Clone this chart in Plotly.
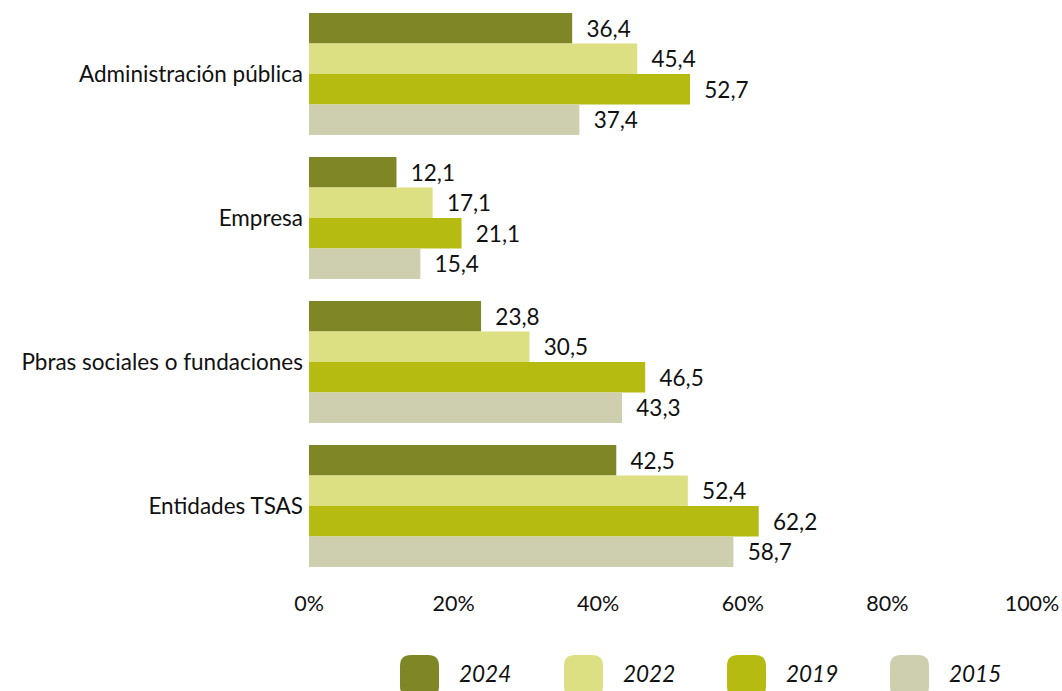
import plotly.graph_objects as go

# Survey results by sector (percent), one series per survey year
categories = ["Administración pública", "Empresa", "Pbras sociales o fundaciones", "Entidades TSAS"]
years = ["2024", "2022", "2019", "2015"]
values_2024 = [36.4, 12.1, 23.8, 42.5]
values_2022 = [45.4, 17.1, 30.5, 52.4]
values_2019 = [52.7, 21.1, 46.5, 62.2]
values_2015 = [37.4, 15.4, 43.3, 58.7]
series = [values_2024, values_2022, values_2019, values_2015]
colors = ["#7f8626", "#dcdf82", "#b5bb10", "#cecfaf"]
x_ticks = [0, 20, 40, 60, 80, 100]
x_tick_labels = ["0%", "20%", "40%", "60%", "80%", "100%"]

FONT = "Lato, 'Open Sans', sans-serif"
W, H = 1062, 691
M_L, M_R, M_T, M_B = 309, 30, 2, 113
PW, PH = W - M_L - M_R, H - M_T - M_B


def fmt(v):
    # decimal comma, small lead space to keep the label off the bar end
    return "\u2002" + f"{v:.1f}".replace(".", ",")


fig = go.Figure()
for name, vals, col in zip(years, series, colors):
    fig.add_trace(go.Bar(
        y=categories, x=vals, name=name, orientation="h",
        marker=dict(color=col, line=dict(width=0)),
        text=[fmt(v) for v in vals], textposition="outside",
        textfont=dict(family=FONT, size=22.5, color="#111111"),
        cliponaxis=False,
    ))


# Custom legend: rounded swatches below the axis
def px_to_paper(px, py):
    return (px - M_L) / PW, (H - M_B - py) / PH


def rounded_rect(x0, y0, x1, y1, r):
    pts = []
    def P(cmd, x, y):
        u, v = px_to_paper(x, y)
        pts.append(f"{cmd}{u:.5f},{v:.5f}")
    P("M", x0 + r, y0)
    P("L", x1 - r, y0)
    P("Q", x1, y0); P(" ", x1, y0 + r)
    P("L", x1, y1 - r)
    P("Q", x1, y1); P(" ", x1 - r, y1)
    P("L", x0 + r, y1)
    P("Q", x0, y1); P(" ", x0, y1 - r)
    P("L", x0, y0 + r)
    P("Q", x0, y0); P(" ", x0 + r, y0)
    return " ".join(pts) + " Z"


legend_x = [400, 564, 727, 890]
for lx, name, col in zip(legend_x, years, colors):
    fig.add_shape(type="path", xref="paper", yref="paper",
                  path=rounded_rect(lx, 655, lx + 39, 697, 11),
                  fillcolor=col, line=dict(width=0), layer="above")
    tx, ty = px_to_paper(lx + 57, 673)
    fig.add_annotation(x=tx, y=ty, xref="paper", yref="paper", text=f"<i>{name}</i>",
                       showarrow=False, xanchor="left", yanchor="middle",
                       font=dict(family=FONT, size=22.5, color="#111111"))

fig.update_layout(
    width=W, height=H,
    margin=dict(l=M_L, r=M_R, t=M_T, b=M_B),
    barmode="group", bargap=0.153, bargroupgap=0,
    plot_bgcolor="white", paper_bgcolor="white",
    showlegend=False,
    font=dict(family=FONT, size=21, color="#111111"),
    xaxis=dict(range=[0, 100], tickvals=x_ticks, ticktext=x_tick_labels,
               showgrid=False, zeroline=False, showline=False,
               ticklabelstandoff=10, tickfont=dict(size=21.5)),
    yaxis=dict(autorange="reversed", showgrid=False, zeroline=False, showline=False,
               ticklabelstandoff=5, tickfont=dict(size=22.5)),
)

fig.write_html("out.html")
